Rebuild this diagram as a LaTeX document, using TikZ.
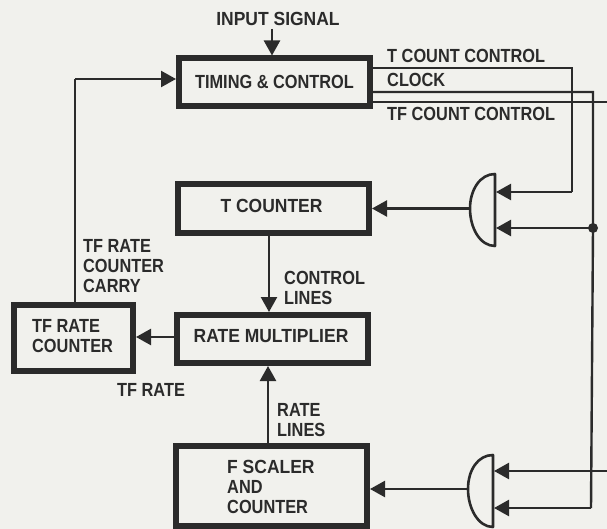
\documentclass[tikz,border=0pt]{standalone}
\usepackage{fontspec}
\setmainfont[BoldFeatures={FakeStretch=0.86}]{Liberation Sans}
\newfontfamily\widefont[BoldFeatures={FakeStretch=0.92}]{Liberation Sans}
\usetikzlibrary{arrows.meta}
\definecolor{paper}{HTML}{F1F1ED}
\definecolor{ink}{HTML}{2B2B2B}
\tikzset{
  bx/.style={draw=ink,line width=6pt,inner sep=0pt,fill=none},
  lbl/.style={text=ink,font=\fontsize{19}{20}\selectfont\bfseries,inner sep=0pt,align=left},
  wire/.style={draw=ink,line width=2.4pt},
  arr/.style={wire,-{Triangle[length=15pt,width=16pt]}},
  gate/.style={draw=ink,line width=2.6pt,line join=round},
}
\begin{document}
\begin{tikzpicture}[x=1pt,y=-1pt]
\useasboundingbox (0,0) rectangle (607,529);
\fill[paper] (0,0) rectangle (607,529);
% boxes
\node[bx,minimum width=191pt,minimum height=47.5pt] (timing) at (274.5,82.25) {};
\node[lbl] at (274.5,81.5) {TIMING \& CONTROL};
\node[bx,minimum width=191pt,minimum height=49pt] (tc) at (273.5,208.5) {};
\node[lbl] at (271.5,206) {\widefont T COUNTER};
\node[bx,minimum width=191pt,minimum height=48pt] (rm) at (272.5,339) {};
\node[lbl] at (271,336) {\widefont RATE MULTIPLIER};
\node[bx,minimum width=191pt,minimum height=80pt] (fs) at (271.5,486) {};
\node[lbl,anchor=west] (fst) at (227,486.5) {{\widefont F SCALER}\\AND\\COUNTER};
\node[bx,minimum width=119pt,minimum height=66pt] (tf) at (73.5,338) {};
\node[lbl,anchor=west] at (32,336) {TF RATE\\COUNTER};
% gates
\coordinate (g1top) at (495,174); \coordinate (g1bot) at (495,246);
\coordinate (g2top) at (493,455); \coordinate (g2bot) at (493,527);
\coordinate (g1out) at (470,208.5); \coordinate (g2out) at (468,489);
\draw[gate] (g1top) -- (g1bot) .. controls (480,246) and (470,228) .. (g1out) .. controls (470,190) and (480,174) .. cycle;
\draw[gate] (g2top) -- (g2bot) .. controls (478,527) and (468,508) .. (g2out) .. controls (468,470) and (478,455) .. cycle;
% signal lines
\coordinate (inp) at (272,29);
\draw[arr] (inp) -- (inp |- timing.north);
\node[lbl] at (278,19) {\widefont INPUT SIGNAL};
\coordinate (g1a) at (496,192); \coordinate (g1b) at (496,228);
\coordinate (g2a) at (494,471); \coordinate (g2b) at (494,508);
\coordinate (tcR) at (572,68); \coordinate (tcD) at (572,192);
\coordinate (clkR) at (593,92); \coordinate (clkJ) at (593,228); \coordinate (clkD) at (591,508);
\coordinate (tfE) at (607,102); \coordinate (tfE2) at (607,471);
\draw[wire] (369,68) -- (tcR) -- (tcD);
\draw[wire] (369,92) -- (clkR) -- (clkJ) -- (clkD);
\draw[wire] (369,102) -- (tfE);
\draw[arr] (tcD) -- (g1a);
\draw[arr] (clkJ) -- (g1b);
\draw[arr] (tfE2) -- (g2a);
\draw[arr] (clkD) -- (g2b);
\fill[ink] (clkJ) circle (5pt);
\draw[arr] (g1out) -- (g1out -| tc.east);
\draw[arr] (g2out) -- (g2out -| fs.east);
\coordinate (dn) at (269,270);
\coordinate (up) at (268,400);
\draw[arr] (dn |- tc.south) -- (dn |- rm.north);
\draw[arr] (up |- fs.north) -- (up |- rm.south);
\coordinate (lf) at (160,337);
\draw[arr] (lf -| rm.west) -- (lf -| tf.east);
\coordinate (cup) at (75,79);
\draw[wire] (cup |- tf.north) -- (cup);
\draw[arr] (cup) -- (cup -| timing.west);
% labels
\node[lbl,anchor=west] at (387,55.5) {T COUNT CONTROL};
\node[lbl,anchor=west] at (387,80) {CLOCK};
\node[lbl,anchor=west] at (387,114) {TF COUNT CONTROL};
\node[lbl,anchor=west] at (83,266) {TF RATE\\COUNTER\\CARRY};
\node[lbl,anchor=west] at (284,287.5) {CONTROL\\LINES};
\node[lbl,anchor=west] at (277,420.5) {RATE\\LINES};
\node[lbl,anchor=west] at (117,390) {TF RATE};
\end{tikzpicture}
\end{document}
